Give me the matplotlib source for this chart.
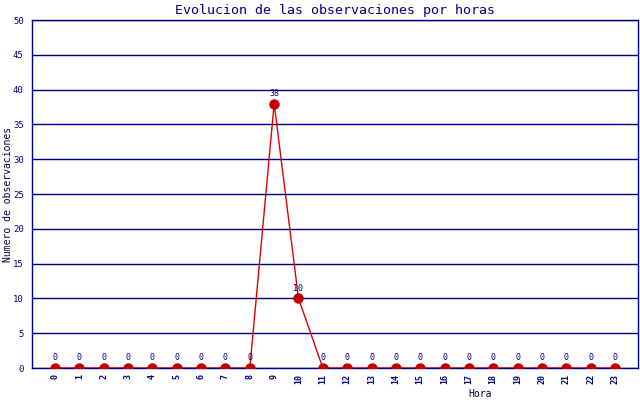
import matplotlib
matplotlib.use('Agg')
import matplotlib.pyplot as plt

# datos
horas = list(range(24))
observaciones = [0, 0, 0, 0, 0, 0, 0, 0, 0, 38, 10, 0,
                 0, 0, 0, 0, 0, 0, 0, 0, 0, 0, 0, 0]
y_ticks = list(range(0, 51, 5))

navy = '#000080'
plt.rcParams['font.family'] = 'DejaVu Sans Mono'

fig = plt.figure(figsize=(6.4, 4), dpi=100)
ax = fig.add_axes([32 / 640, 32 / 400, 606 / 640, 348 / 400])

ax.plot(horas, observaciones, color='#dd0000', linewidth=1, zorder=3)
ax.plot(horas, observaciones, 'o', color='#c00000', markersize=6.5, zorder=4)

for h, v in zip(horas, observaciones):
    ax.annotate(str(v), (h, v), xytext=(0, 4), textcoords='offset points',
                ha='center', va='bottom', fontsize=6, color=navy)

ax.set_xlim(-0.95, 23.95)
ax.set_ylim(0, 50)
ax.set_yticks(y_ticks)
ax.set_xticks(horas)
ax.set_xticklabels([str(h) for h in horas], rotation=90, fontsize=6,
                   fontweight='bold', color=navy)
ax.tick_params(axis='y', labelsize=6.5, labelcolor=navy, length=0, pad=6)
ax.tick_params(axis='x', length=0, pad=4)
ax.yaxis.grid(True, color=navy, linewidth=1)
ax.set_axisbelow(True)
for s in ax.spines.values():
    s.set_color(navy)
    s.set_linewidth(1)

ax.set_title('Evolucion de las observaciones por horas', fontsize=9.5,
             color=navy, pad=4)
ax.set_ylabel('Numero de observaciones', fontsize=7, color='#000040')
ax.yaxis.set_label_coords(-0.032, 0.5)
ax.set_xlabel('Hora', fontsize=7, color='#000040')
ax.xaxis.set_label_coords((480 - 32) / 606, -0.06)

fig.savefig('out.png', dpi=100)
